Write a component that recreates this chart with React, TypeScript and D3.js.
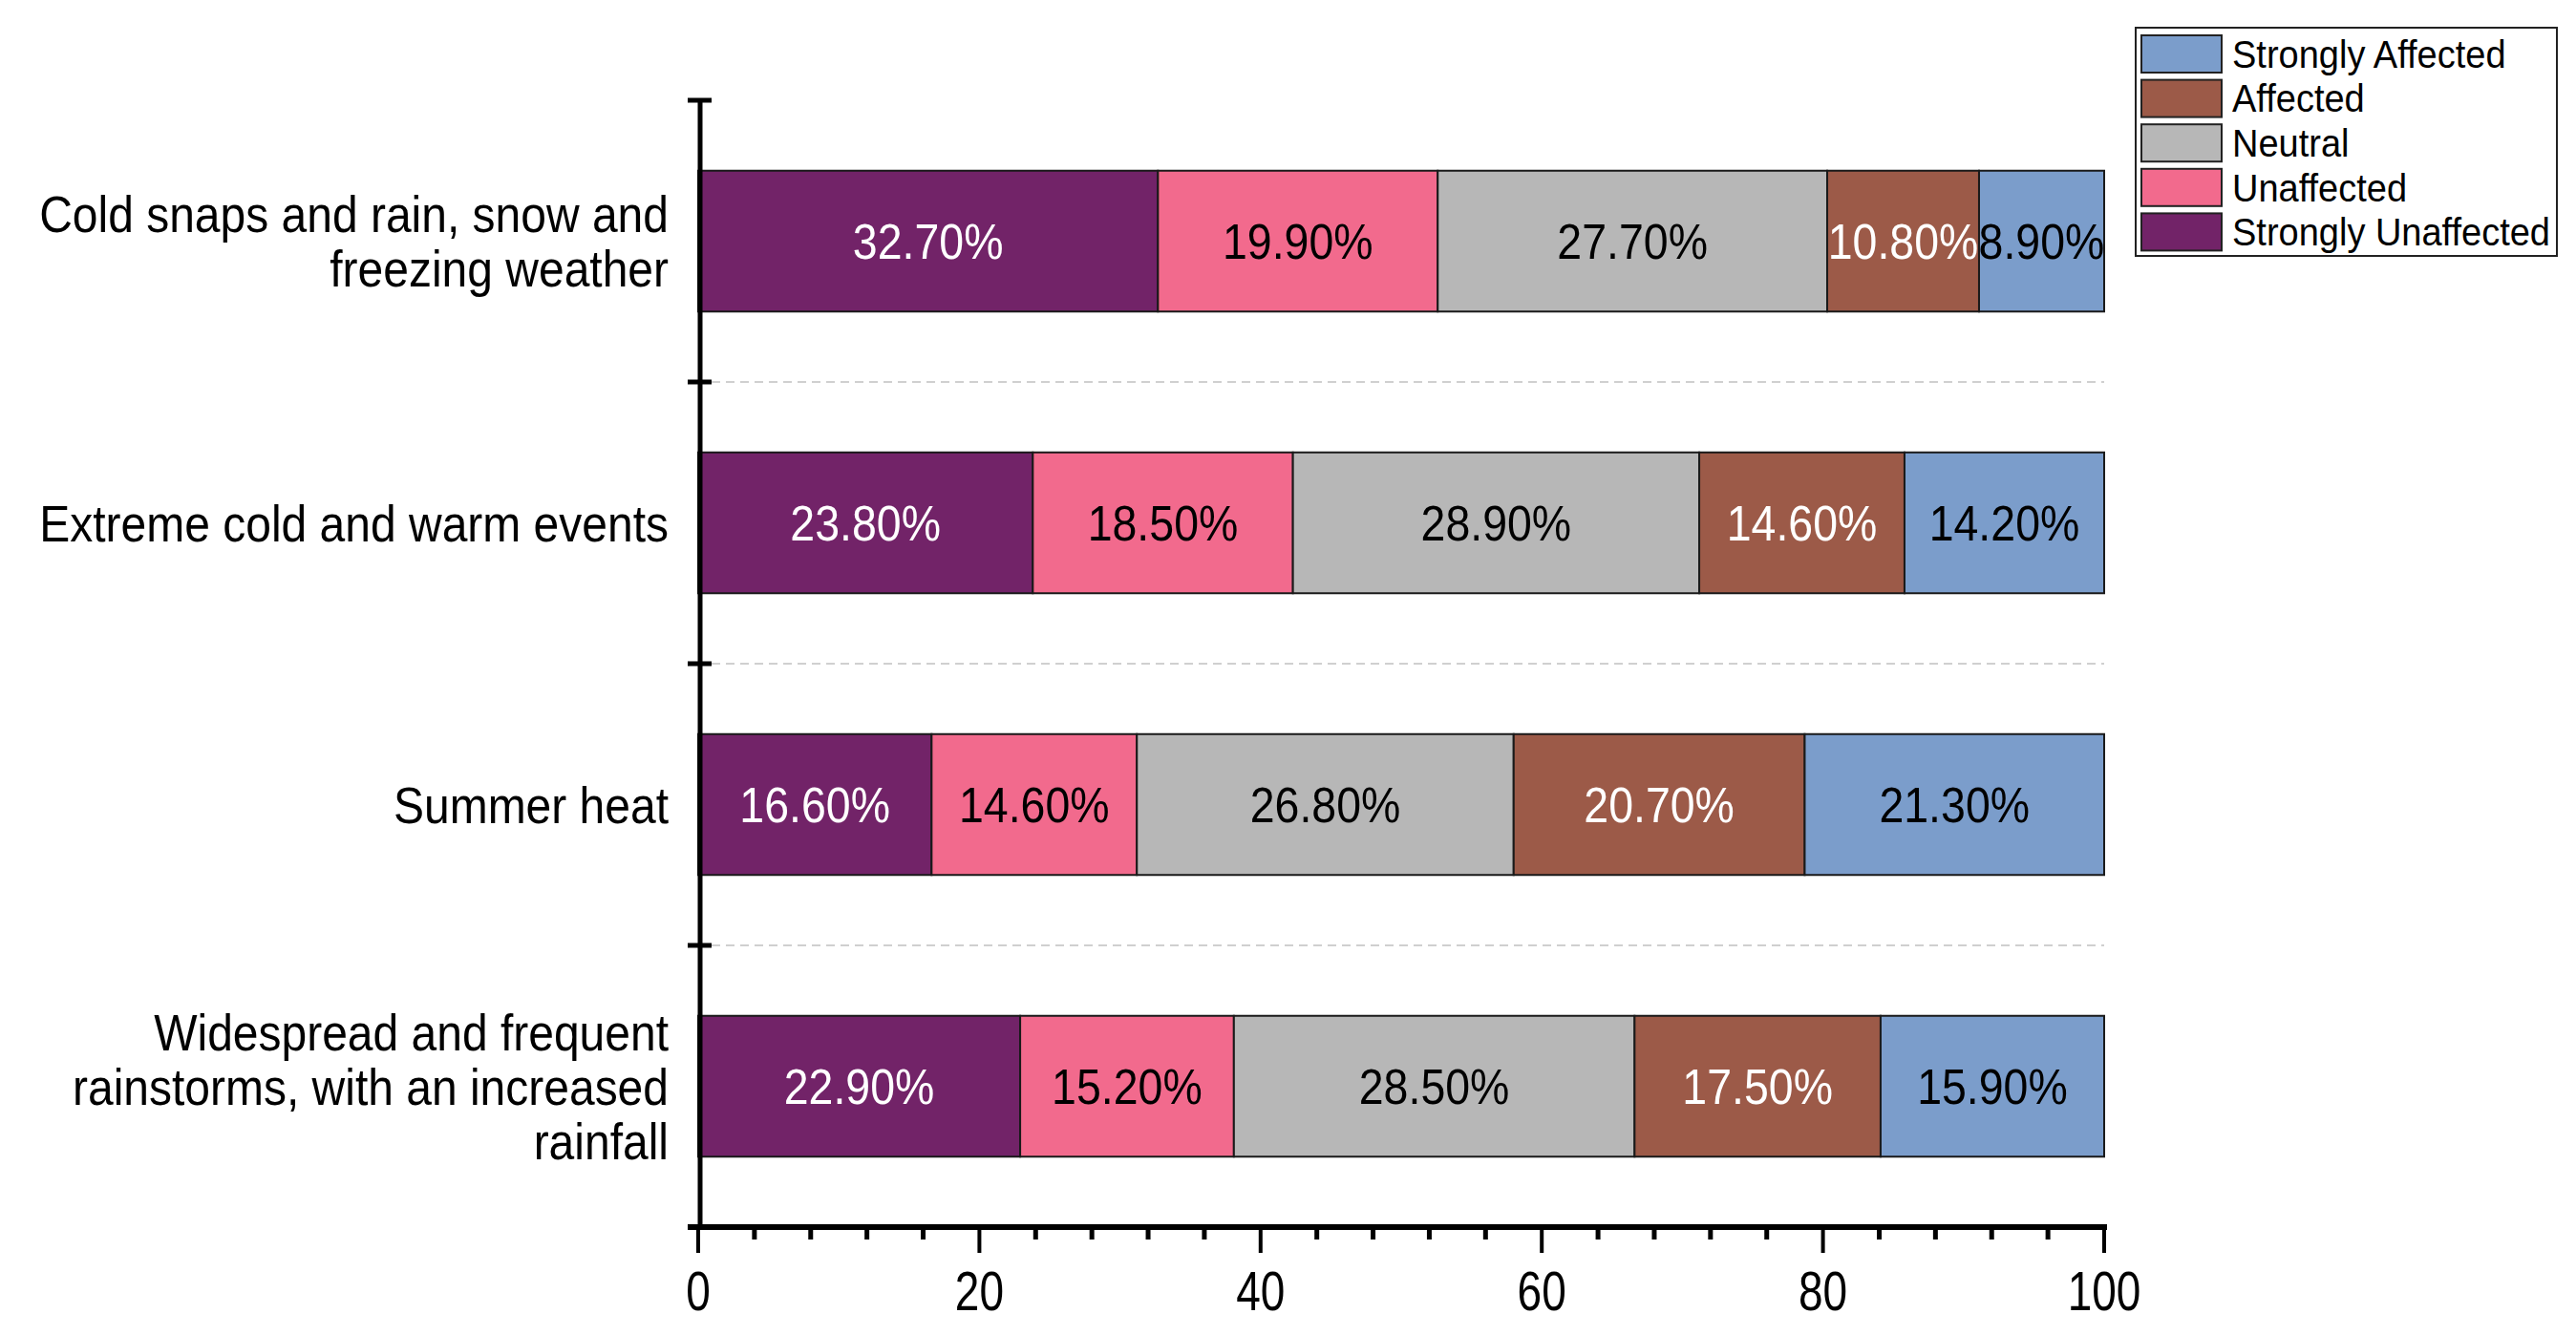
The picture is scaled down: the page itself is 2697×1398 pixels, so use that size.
import React from "react";
import * as d3 from "d3";

const categories = [
  "Cold snaps and rain, snow and\nfreezing weather",
  "Extreme cold and warm events",
  "Summer heat",
  "Widespread and frequent\nrainstorms, with an increased\nrainfall",
];
const seriesNames = ["Strongly Unaffected", "Unaffected", "Neutral", "Affected", "Strongly Affected"];
const stronglyUnaffected = [32.7, 23.8, 16.6, 22.9];
const unaffected = [19.9, 18.5, 14.6, 15.2];
const neutral = [27.7, 28.9, 26.8, 28.5];
const affected = [10.8, 14.6, 20.7, 17.5];
const stronglyAffected = [8.9, 14.2, 21.3, 15.9];
const colors = ["#722368", "#f26a8d", "#b7b7b7", "#9c5a48", "#7b9dcb"];
const labelColors = ["#ffffff", "#000000", "#000000", "#ffffff", "#000000"];
const xTicks = [0, 20, 40, 60, 80, 100];
const legendOrder = ["Strongly Affected", "Affected", "Neutral", "Unaffected", "Strongly Unaffected"];

const W = 2697;
const H = 1398;
const FONT = "'Liberation Sans', Arial, sans-serif";

function T({ x, y, sy, size, anchor, fill, children }: any) {
  return (
    <text
      transform={`translate(${x},${y}) scale(1,${sy})`}
      x={0}
      y={0}
      dy="0.36em"
      textAnchor={anchor}
      fontSize={size}
      fill={fill}
    >
      {children}
    </text>
  );
}

export default function App() {
  const values = [stronglyUnaffected, unaffected, neutral, affected, stronglyAffected];
  const x = d3.scaleLinear().domain([0, 100]).range([731, 2203]);
  const yBand = d3.scaleBand<number>().domain(d3.range(categories.length)).range([105, 1285]).paddingInner(0.5).paddingOuter(0.25);
  const yOuter = d3.scaleBand<number>().domain(d3.range(categories.length)).range([105, 1285]);

  const rows = categories.map((c, i) => {
    let acc = 0;
    return values.map((s, k) => {
      const v = s[i];
      const seg = { k, x0: acc, x1: acc + v, v };
      acc += v;
      return seg;
    });
  });

  const minorTicks = d3.range(0, 101, 4);
  const boundaries = d3.range(1, categories.length).map((i) => yOuter(i)!);

  return (
    <svg width={W} height={H} style={{ position: "absolute", left: 0, top: 0, background: "#fff" }} fontFamily={FONT}>
      <rect x={0} y={0} width={W} height={H} fill="#ffffff" />
      {boundaries.map((b, i) => (
        <line key={i} x1={745} x2={x(100)} y1={b} y2={b} stroke="#d0d0d0" strokeWidth={2} strokeDasharray="9 6" />
      ))}
      {rows.map((segs, i) =>
        segs.map((s) => (
          <g key={`${i}-${s.k}`}>
            <rect
              x={x(s.x0)}
              y={yBand(i)!}
              width={x(s.x1) - x(s.x0)}
              height={yBand.bandwidth()}
              fill={colors[s.k]}
              stroke="#1a1a1a"
              strokeWidth={2}
            />
            <T
              x={(x(s.x0) + x(s.x1)) / 2}
              y={yBand(i)! + yBand.bandwidth() / 2}
              sy={1.12}
              size={46.5}
              anchor="middle"
              fill={labelColors[s.k]}
            >
              {s.v.toFixed(2)}%
            </T>
          </g>
        ))
      )}
      <line x1={733} x2={733} y1={105} y2={1285} stroke="#000" strokeWidth={5} />
      {[105, ...boundaries].map((b, i) => (
        <line key={i} x1={720} x2={745} y1={b} y2={b} stroke="#000" strokeWidth={5} />
      ))}
      {categories.map((c, i) => {
        const lines = c.split("\n");
        const cy = yBand(i)! + yBand.bandwidth() / 2;
        const lh = 57;
        const start = cy - ((lines.length - 1) * lh) / 2;
        return (
          <g key={i}>
            {lines.map((l, j) => (
              <T key={j} x={700} y={start + j * lh} sy={1.1} size={48} anchor="end" fill="#000">
                {l}
              </T>
            ))}
          </g>
        );
      })}
      <line x1={720} x2={2206} y1={1285} y2={1285} stroke="#000" strokeWidth={6} />
      {minorTicks.map((t) => (
        <line
          key={t}
          x1={x(t)}
          x2={x(t)}
          y1={1285}
          y2={t % 20 === 0 ? 1312 : 1298}
          stroke="#000"
          strokeWidth={t % 20 === 0 ? 4 : 5}
        />
      ))}
      {xTicks.map((t) => (
        <T key={t} x={x(t)} y={1351} sy={1.25} size={46} anchor="middle" fill="#000">
          {t}
        </T>
      ))}
      <rect x={2236} y={29} width={441} height={239} fill="#fff" stroke="#222" strokeWidth={2} />
      {legendOrder.map((name, j) => {
        const k = seriesNames.indexOf(name);
        const cy = 56.5 + j * 46.6;
        return (
          <g key={name}>
            <rect x={2242} y={cy - 19.5} width={84} height={39} fill={colors[k]} stroke="#222" strokeWidth={2} />
            <T x={2337} y={cy} sy={1.05} size={38} anchor="start" fill="#000">
              {name}
            </T>
          </g>
        );
      })}
    </svg>
  );
}
